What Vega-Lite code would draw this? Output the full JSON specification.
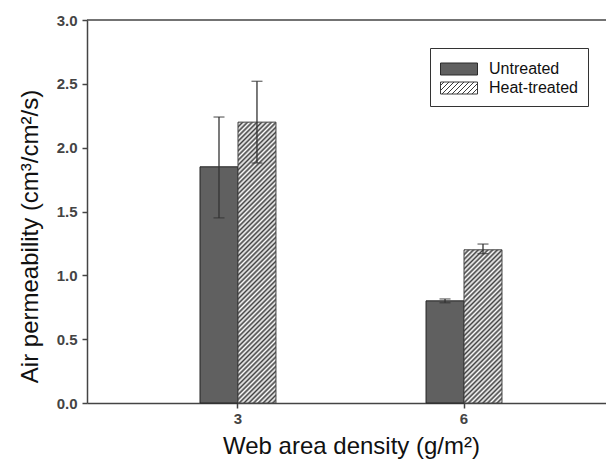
{
  "$schema": "https://vega.github.io/schema/vega-lite/v6.json",
  "width": 519,
  "height": 383,
  "autosize": {"type": "none"},
  "padding": {"left": 87, "top": 20, "right": 0, "bottom": 64},
  "background": "white",
  "config": {"view": {"stroke": null}, "font": "Liberation Sans"},
  "data": {
    "values": [
      {"density": 3, "group": "Untreated", "value": 1.85, "lo": 1.45, "hi": 2.24},
      {"density": 3, "group": "Heat-treated", "value": 2.2, "lo": 1.88, "hi": 2.52},
      {"density": 6, "group": "Untreated", "value": 0.8, "lo": 0.785, "hi": 0.815},
      {"density": 6, "group": "Heat-treated", "value": 1.2, "lo": 1.17, "hi": 1.245}
    ]
  },
  "layer": [
    {
      "transform": [{"filter": "datum.group === 'Untreated'"}],
      "mark": {"type": "bar", "fill": "#606060", "stroke": "#222", "strokeWidth": 1},
      "encoding": {
        "x": {
          "field": "density", "type": "ordinal",
          "scale": {"range": [0, 528], "paddingInner": 0.664, "paddingOuter": 0.5},
          "axis": {
            "title": "Web area density (g/m²)", "labelAngle": 0,
            "domainColor": "#444", "domainWidth": 1.5, "tickColor": "#444", "tickWidth": 1.5, "tickSize": 5,
            "labelFont": "Liberation Sans Narrow, Liberation Sans", "labelFontWeight": "bold", "labelFontSize": 15, "labelColor": "#444", "labelPadding": 3,
            "titleFont": "Liberation Sans", "titleFontSize": 24, "titleFontWeight": "normal", "titleColor": "#111",
            "titleBaseline": "alphabetic", "titleX": 264, "titleY": 50
          }
        },
        "xOffset": {"field": "group", "scale": {"domain": ["Untreated", "Heat-treated"], "paddingInner": 0, "paddingOuter": 0}},
        "y": {
          "field": "value", "type": "quantitative",
          "scale": {"domain": [0, 3], "nice": false},
          "axis": {
            "title": "Air permeability (cm³/cm²/s)", "values": [0, 0.5, 1, 1.5, 2, 2.5, 3], "format": ".1f", "grid": false,
            "domainColor": "#444", "domainWidth": 1.5, "tickColor": "#444", "tickWidth": 1.5, "tickSize": 5,
            "labelFont": "Liberation Sans Narrow, Liberation Sans", "labelFontWeight": "bold", "labelFontSize": 15, "labelColor": "#444", "labelPadding": 5,
            "titleFont": "Liberation Sans", "titleFontSize": 24, "titleFontWeight": "normal", "titleColor": "#111",
            "titleBaseline": "alphabetic", "titleX": -50, "titleY": 216, "titleAlign": "center"
          }
        }
      }
    },
    {
      "transform": [{"filter": "datum.group === 'Heat-treated'"}],
      "mark": {"type": "bar", "stroke": "#444", "strokeWidth": 1},
      "encoding": {
        "x": {"field": "density", "type": "ordinal"},
        "xOffset": {"field": "group"},
        "y": {"field": "value", "type": "quantitative"},
        "fill": {
          "condition": {
            "test": "datum.density == 3",
            "value": {"gradient": "linear", "x1": 0, "y1": 0, "x2": 0.1506, "y2": 1.1146, "stops": [
              {"offset": 0, "color": "#404040"}, {"offset": 0.0075, "color": "#ffffff"}, {"offset": 0.015, "color": "#404040"}, {"offset": 0.0225, "color": "#ffffff"},
              {"offset": 0.03, "color": "#404040"}, {"offset": 0.0375, "color": "#ffffff"}, {"offset": 0.045, "color": "#404040"}, {"offset": 0.0525, "color": "#ffffff"},
              {"offset": 0.06, "color": "#404040"}, {"offset": 0.0675, "color": "#ffffff"}, {"offset": 0.075, "color": "#404040"}, {"offset": 0.0825, "color": "#ffffff"},
              {"offset": 0.09, "color": "#404040"}, {"offset": 0.0975, "color": "#ffffff"}, {"offset": 0.105, "color": "#404040"}, {"offset": 0.1125, "color": "#ffffff"},
              {"offset": 0.12, "color": "#404040"}, {"offset": 0.1275, "color": "#ffffff"}, {"offset": 0.135, "color": "#404040"}, {"offset": 0.1425, "color": "#ffffff"},
              {"offset": 0.15, "color": "#404040"}, {"offset": 0.1575, "color": "#ffffff"}, {"offset": 0.165, "color": "#404040"}, {"offset": 0.1725, "color": "#ffffff"},
              {"offset": 0.18, "color": "#404040"}, {"offset": 0.1875, "color": "#ffffff"}, {"offset": 0.195, "color": "#404040"}, {"offset": 0.2025, "color": "#ffffff"},
              {"offset": 0.21, "color": "#404040"}, {"offset": 0.2175, "color": "#ffffff"}, {"offset": 0.225, "color": "#404040"}, {"offset": 0.2325, "color": "#ffffff"},
              {"offset": 0.24, "color": "#404040"}, {"offset": 0.2475, "color": "#ffffff"}, {"offset": 0.255, "color": "#404040"}, {"offset": 0.2625, "color": "#ffffff"},
              {"offset": 0.27, "color": "#404040"}, {"offset": 0.2775, "color": "#ffffff"}, {"offset": 0.285, "color": "#404040"}, {"offset": 0.2925, "color": "#ffffff"},
              {"offset": 0.3, "color": "#404040"}, {"offset": 0.3075, "color": "#ffffff"}, {"offset": 0.315, "color": "#404040"}, {"offset": 0.3225, "color": "#ffffff"},
              {"offset": 0.33, "color": "#404040"}, {"offset": 0.3375, "color": "#ffffff"}, {"offset": 0.345, "color": "#404040"}, {"offset": 0.3525, "color": "#ffffff"},
              {"offset": 0.36, "color": "#404040"}, {"offset": 0.3675, "color": "#ffffff"}, {"offset": 0.375, "color": "#404040"}, {"offset": 0.3825, "color": "#ffffff"},
              {"offset": 0.39, "color": "#404040"}, {"offset": 0.3975, "color": "#ffffff"}, {"offset": 0.405, "color": "#404040"}, {"offset": 0.4125, "color": "#ffffff"},
              {"offset": 0.42, "color": "#404040"}, {"offset": 0.4275, "color": "#ffffff"}, {"offset": 0.435, "color": "#404040"}, {"offset": 0.4425, "color": "#ffffff"},
              {"offset": 0.45, "color": "#404040"}, {"offset": 0.4575, "color": "#ffffff"}, {"offset": 0.465, "color": "#404040"}, {"offset": 0.4725, "color": "#ffffff"},
              {"offset": 0.48, "color": "#404040"}, {"offset": 0.4875, "color": "#ffffff"}, {"offset": 0.495, "color": "#404040"}, {"offset": 0.5025, "color": "#ffffff"},
              {"offset": 0.51, "color": "#404040"}, {"offset": 0.5175, "color": "#ffffff"}, {"offset": 0.525, "color": "#404040"}, {"offset": 0.5325, "color": "#ffffff"},
              {"offset": 0.54, "color": "#404040"}, {"offset": 0.5475, "color": "#ffffff"}, {"offset": 0.555, "color": "#404040"}, {"offset": 0.5625, "color": "#ffffff"},
              {"offset": 0.57, "color": "#404040"}, {"offset": 0.5775, "color": "#ffffff"}, {"offset": 0.585, "color": "#404040"}, {"offset": 0.5925, "color": "#ffffff"},
              {"offset": 0.6, "color": "#404040"}, {"offset": 0.6075, "color": "#ffffff"}, {"offset": 0.615, "color": "#404040"}, {"offset": 0.6225, "color": "#ffffff"},
              {"offset": 0.63, "color": "#404040"}, {"offset": 0.6375, "color": "#ffffff"}, {"offset": 0.645, "color": "#404040"}, {"offset": 0.6525, "color": "#ffffff"},
              {"offset": 0.66, "color": "#404040"}, {"offset": 0.6675, "color": "#ffffff"}, {"offset": 0.675, "color": "#404040"}, {"offset": 0.6825, "color": "#ffffff"},
              {"offset": 0.69, "color": "#404040"}, {"offset": 0.6975, "color": "#ffffff"}, {"offset": 0.705, "color": "#404040"}, {"offset": 0.7125, "color": "#ffffff"},
              {"offset": 0.72, "color": "#404040"}, {"offset": 0.7275, "color": "#ffffff"}, {"offset": 0.735, "color": "#404040"}, {"offset": 0.7425, "color": "#ffffff"},
              {"offset": 0.75, "color": "#404040"}, {"offset": 0.7575, "color": "#ffffff"}, {"offset": 0.765, "color": "#404040"}, {"offset": 0.7725, "color": "#ffffff"},
              {"offset": 0.78, "color": "#404040"}, {"offset": 0.7875, "color": "#ffffff"}, {"offset": 0.795, "color": "#404040"}, {"offset": 0.8025, "color": "#ffffff"},
              {"offset": 0.81, "color": "#404040"}, {"offset": 0.8175, "color": "#ffffff"}, {"offset": 0.825, "color": "#404040"}, {"offset": 0.8325, "color": "#ffffff"},
              {"offset": 0.84, "color": "#404040"}, {"offset": 0.8475, "color": "#ffffff"}, {"offset": 0.855, "color": "#404040"}, {"offset": 0.8625, "color": "#ffffff"},
              {"offset": 0.87, "color": "#404040"}, {"offset": 0.8775, "color": "#ffffff"}, {"offset": 0.885, "color": "#404040"}, {"offset": 0.8925, "color": "#ffffff"},
              {"offset": 0.9, "color": "#404040"}, {"offset": 0.9075, "color": "#ffffff"}, {"offset": 0.915, "color": "#404040"}, {"offset": 0.9225, "color": "#ffffff"},
              {"offset": 0.93, "color": "#404040"}, {"offset": 0.9375, "color": "#ffffff"}, {"offset": 0.945, "color": "#404040"}, {"offset": 0.9525, "color": "#ffffff"},
              {"offset": 0.96, "color": "#404040"}, {"offset": 0.9675, "color": "#ffffff"}, {"offset": 0.975, "color": "#404040"}, {"offset": 0.9825, "color": "#ffffff"},
              {"offset": 0.99, "color": "#404040"}, {"offset": 0.9975, "color": "#ffffff"}, {"offset": 1, "color": "#ffffff"}
            ]}
          },
          "value": {"gradient": "linear", "x1": 0, "y1": 0, "x2": 0.2912, "y2": 1.1756, "stops": [
            {"offset": 0, "color": "#404040"}, {"offset": 0.0125, "color": "#ffffff"}, {"offset": 0.025, "color": "#404040"}, {"offset": 0.0375, "color": "#ffffff"},
            {"offset": 0.05, "color": "#404040"}, {"offset": 0.0625, "color": "#ffffff"}, {"offset": 0.075, "color": "#404040"}, {"offset": 0.0875, "color": "#ffffff"},
            {"offset": 0.1, "color": "#404040"}, {"offset": 0.1125, "color": "#ffffff"}, {"offset": 0.125, "color": "#404040"}, {"offset": 0.1375, "color": "#ffffff"},
            {"offset": 0.15, "color": "#404040"}, {"offset": 0.1625, "color": "#ffffff"}, {"offset": 0.175, "color": "#404040"}, {"offset": 0.1875, "color": "#ffffff"},
            {"offset": 0.2, "color": "#404040"}, {"offset": 0.2125, "color": "#ffffff"}, {"offset": 0.225, "color": "#404040"}, {"offset": 0.2375, "color": "#ffffff"},
            {"offset": 0.25, "color": "#404040"}, {"offset": 0.2625, "color": "#ffffff"}, {"offset": 0.275, "color": "#404040"}, {"offset": 0.2875, "color": "#ffffff"},
            {"offset": 0.3, "color": "#404040"}, {"offset": 0.3125, "color": "#ffffff"}, {"offset": 0.325, "color": "#404040"}, {"offset": 0.3375, "color": "#ffffff"},
            {"offset": 0.35, "color": "#404040"}, {"offset": 0.3625, "color": "#ffffff"}, {"offset": 0.375, "color": "#404040"}, {"offset": 0.3875, "color": "#ffffff"},
            {"offset": 0.4, "color": "#404040"}, {"offset": 0.4125, "color": "#ffffff"}, {"offset": 0.425, "color": "#404040"}, {"offset": 0.4375, "color": "#ffffff"},
            {"offset": 0.45, "color": "#404040"}, {"offset": 0.4625, "color": "#ffffff"}, {"offset": 0.475, "color": "#404040"}, {"offset": 0.4875, "color": "#ffffff"},
            {"offset": 0.5, "color": "#404040"}, {"offset": 0.5125, "color": "#ffffff"}, {"offset": 0.525, "color": "#404040"}, {"offset": 0.5375, "color": "#ffffff"},
            {"offset": 0.55, "color": "#404040"}, {"offset": 0.5625, "color": "#ffffff"}, {"offset": 0.575, "color": "#404040"}, {"offset": 0.5875, "color": "#ffffff"},
            {"offset": 0.6, "color": "#404040"}, {"offset": 0.6125, "color": "#ffffff"}, {"offset": 0.625, "color": "#404040"}, {"offset": 0.6375, "color": "#ffffff"},
            {"offset": 0.65, "color": "#404040"}, {"offset": 0.6625, "color": "#ffffff"}, {"offset": 0.675, "color": "#404040"}, {"offset": 0.6875, "color": "#ffffff"},
            {"offset": 0.7, "color": "#404040"}, {"offset": 0.7125, "color": "#ffffff"}, {"offset": 0.725, "color": "#404040"}, {"offset": 0.7375, "color": "#ffffff"},
            {"offset": 0.75, "color": "#404040"}, {"offset": 0.7625, "color": "#ffffff"}, {"offset": 0.775, "color": "#404040"}, {"offset": 0.7875, "color": "#ffffff"},
            {"offset": 0.8, "color": "#404040"}, {"offset": 0.8125, "color": "#ffffff"}, {"offset": 0.825, "color": "#404040"}, {"offset": 0.8375, "color": "#ffffff"},
            {"offset": 0.85, "color": "#404040"}, {"offset": 0.8625, "color": "#ffffff"}, {"offset": 0.875, "color": "#404040"}, {"offset": 0.8875, "color": "#ffffff"},
            {"offset": 0.9, "color": "#404040"}, {"offset": 0.9125, "color": "#ffffff"}, {"offset": 0.925, "color": "#404040"}, {"offset": 0.9375, "color": "#ffffff"},
            {"offset": 0.95, "color": "#404040"}, {"offset": 0.9625, "color": "#ffffff"}, {"offset": 0.975, "color": "#404040"}, {"offset": 0.9875, "color": "#ffffff"},
            {"offset": 1, "color": "#404040"}
          ]}
        }
      }
    },
    {
      "mark": {"type": "rule", "color": "#333", "strokeWidth": 1.3},
      "encoding": {
        "x": {"field": "density", "type": "ordinal"},
        "xOffset": {"field": "group"},
        "y": {"field": "lo", "type": "quantitative"},
        "y2": {"field": "hi"}
      }
    },
    {
      "mark": {"type": "tick", "color": "#333", "size": 11, "thickness": 1.3},
      "encoding": {
        "x": {"field": "density", "type": "ordinal"},
        "xOffset": {"field": "group"},
        "y": {"field": "lo", "type": "quantitative"}
      }
    },
    {
      "mark": {"type": "tick", "color": "#333", "size": 11, "thickness": 1.3},
      "encoding": {
        "x": {"field": "density", "type": "ordinal"},
        "xOffset": {"field": "group"},
        "y": {"field": "hi", "type": "quantitative"}
      }
    },
    {
      "transform": [{"filter": "false"}],
      "mark": {"type": "point", "filled": true, "opacity": 1, "strokeWidth": 1},
      "encoding": {
        "x": {"field": "density", "type": "ordinal"},
        "xOffset": {"field": "group"},
        "y": {"field": "value", "type": "quantitative"},
        "fill": {
          "field": "group", "type": "nominal",
          "scale": {"domain": ["Untreated", "Heat-treated"], "range": ["#606060", "#ffffff"]},
          "legend": {
            "title": null, "orient": "none", "legendX": 343, "legendY": 28, "padding": 10,
            "strokeColor": "#333", "fillColor": "white", "symbolSize": 441, "symbolStrokeWidth": 1,
            "labelFont": "Liberation Sans", "labelFontSize": 16, "labelColor": "#111", "labelOffset": 27, "rowPadding": 0
          }
        },
        "stroke": {
          "field": "group", "type": "nominal",
          "scale": {"domain": ["Untreated", "Heat-treated"], "range": ["#2a2a2a", "#3a3a3a"]},
          "legend": {
            "title": null, "orient": "none", "legendX": 343, "legendY": 28, "padding": 10,
            "strokeColor": "#333", "fillColor": "white", "symbolSize": 441, "symbolStrokeWidth": 1,
            "labelFont": "Liberation Sans", "labelFontSize": 16, "labelColor": "#111", "labelOffset": 27, "rowPadding": 0
          }
        },
        "shape": {
          "field": "group", "type": "nominal",
          "scale": {"domain": ["Untreated", "Heat-treated"], "range": [
            "M-1,-0.5714H2.5238V0.5714H-1Z",
            "M-1,-0.5714H2.5238V0.5714H-1Z M-1,-0.2381L-0.6667,-0.5714 M-1,0.2381L-0.1905,-0.5714 M-0.8571,0.5714L0.2857,-0.5714 M-0.381,0.5714L0.7619,-0.5714 M0.0952,0.5714L1.2381,-0.5714 M0.5714,0.5714L1.7143,-0.5714 M1.0476,0.5714L2.1905,-0.5714 M1.5238,0.5714L2.5238,-0.4286 M2,0.5714L2.5238,0.0476"
          ]},
          "legend": {
            "title": null, "orient": "none", "legendX": 343, "legendY": 28, "padding": 10,
            "strokeColor": "#333", "fillColor": "white", "symbolSize": 441, "symbolStrokeWidth": 1,
            "labelFont": "Liberation Sans", "labelFontSize": 16, "labelColor": "#111", "labelOffset": 27, "rowPadding": 0
          }
        }
      }
    },
    {
      "data": {"values": [{"top": 3}]},
      "mark": {"type": "rule", "color": "#444", "strokeWidth": 1.5},
      "encoding": {"y": {"field": "top", "type": "quantitative"}}
    }
  ]
}
